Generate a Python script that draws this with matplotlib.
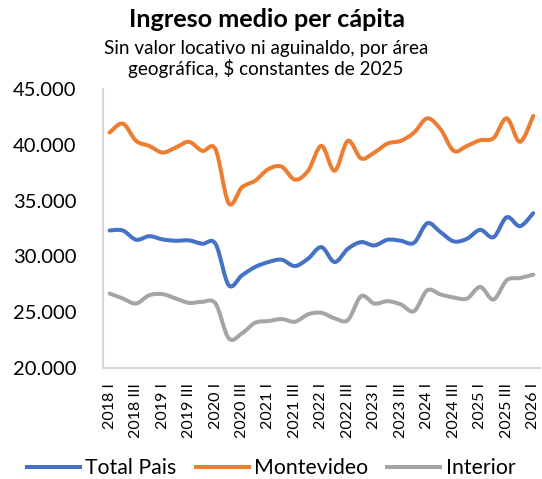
import matplotlib
matplotlib.use("Agg")
import matplotlib.pyplot as plt
import numpy as np
from matplotlib.path import Path
from matplotlib.patches import PathPatch
from matplotlib.lines import Line2D
from matplotlib.ticker import FuncFormatter

plt.rcParams['font.family'] = ['Lato', 'DejaVu Sans']

# trimestres 2018 I .. 2026 I
roman = ['I', 'II', 'III', 'IV']
periodos = []
for y in range(2018, 2027):
    for q in roman:
        periodos.append(f"{y} {q}")
periodos = periodos[:33]

total_pais = [32320, 32320, 31490, 31810, 31520, 31400, 31430, 31130, 31130,
              27410, 28300, 29050, 29490, 29700, 29130, 29800, 30830, 29490,
              30680, 31280, 30980, 31490, 31400, 31220, 32970, 32170, 31340,
              31580, 32380, 31720, 33510, 32710, 33870]
montevideo = [41100, 41900, 40360, 39900, 39310, 39760, 40270, 39460, 39600,
              34760, 36190, 36790, 37830, 38040, 36880, 37680, 39910, 37680,
              40360, 38780, 39310, 40120, 40360, 41100, 42380, 41400, 39460,
              39910, 40420, 40600, 42380, 40270, 42590]
interior = [26670, 26220, 25770, 26520, 26610, 26220, 25830, 25920, 25770,
            22650, 23100, 24050, 24200, 24380, 24140, 24800, 24940, 24440,
            24290, 26430, 25770, 25980, 25690, 25090, 26960, 26580, 26310,
            26220, 27260, 26130, 27860, 28060, 28360]

series = [("Total Pais", total_pais, "#4472C4"),
          ("Montevideo", montevideo, "#ED7D31"),
          ("Interior", interior, "#A5A5A5")]


def smooth_path(xs, ys):
    # curva suavizada tipo Excel (bezier cubica)
    pts = np.column_stack([xs, ys]).astype(float)
    n = len(pts)
    verts = [pts[0]]
    codes = [Path.MOVETO]
    for i in range(n - 1):
        p0 = pts[i - 1] if i > 0 else pts[i]
        p1 = pts[i]
        p2 = pts[i + 1]
        p3 = pts[i + 2] if i + 2 < n else pts[i + 1]
        c1 = p1 + (p2 - p0) / 6.0
        c2 = p2 - (p3 - p1) / 6.0
        verts += [c1, c2, p2]
        codes += [Path.CURVE4] * 3
    return Path(verts, codes)


fig = plt.figure(figsize=(5.42, 4.79), dpi=100)
ax = fig.add_axes([0.190, 0.232, 0.806, 0.582])

x = np.arange(len(periodos))
handles = []
for name, vals, col in series:
    patch = PathPatch(smooth_path(x, vals), facecolor='none', edgecolor=col,
                      lw=2.9, capstyle='round', joinstyle='round')
    ax.add_patch(patch)
    handles.append(Line2D([], [], color=col, lw=2.9, label=name))

ax.set_xlim(-0.5, len(periodos) - 0.5)
ax.set_ylim(20000, 45000)
ax.set_yticks(np.arange(20000, 45001, 5000))
ax.yaxis.set_major_formatter(FuncFormatter(lambda v, p: f"{int(v):,}".replace(",", ".")))
ax.set_xticks(x[::2])
ax.set_xticklabels(periodos[::2], rotation=90)

for s in ['top', 'right']:
    ax.spines[s].set_visible(False)
for s in ['left', 'bottom']:
    ax.spines[s].set_color('#D9D9D9')
    ax.spines[s].set_linewidth(1.5)
ax.tick_params(axis='both', length=0)
ax.tick_params(axis='y', labelsize=14.5, pad=19, colors='#000000')
ax.tick_params(axis='x', labelsize=11.5, pad=11)

fig.text(0.493, 0.944, "Ingreso medio per cápita", ha='center', va='baseline',
         fontsize=18.2, fontweight='bold')
fig.text(0.491, 0.888, "Sin valor locativo ni aguinaldo, por área", ha='center',
         va='baseline', fontsize=13.6)
fig.text(0.491, 0.843, "geográfica, $ constantes de 2025", ha='center',
         va='baseline', fontsize=13.6)

fig.legend(handles=handles, loc='center', bbox_to_anchor=(0.5, 0.023),
           ncol=3, frameon=False, fontsize=15.3, handlelength=2.5,
           handletextpad=0.25, columnspacing=0.9)

fig.savefig("out.png", dpi=100)
